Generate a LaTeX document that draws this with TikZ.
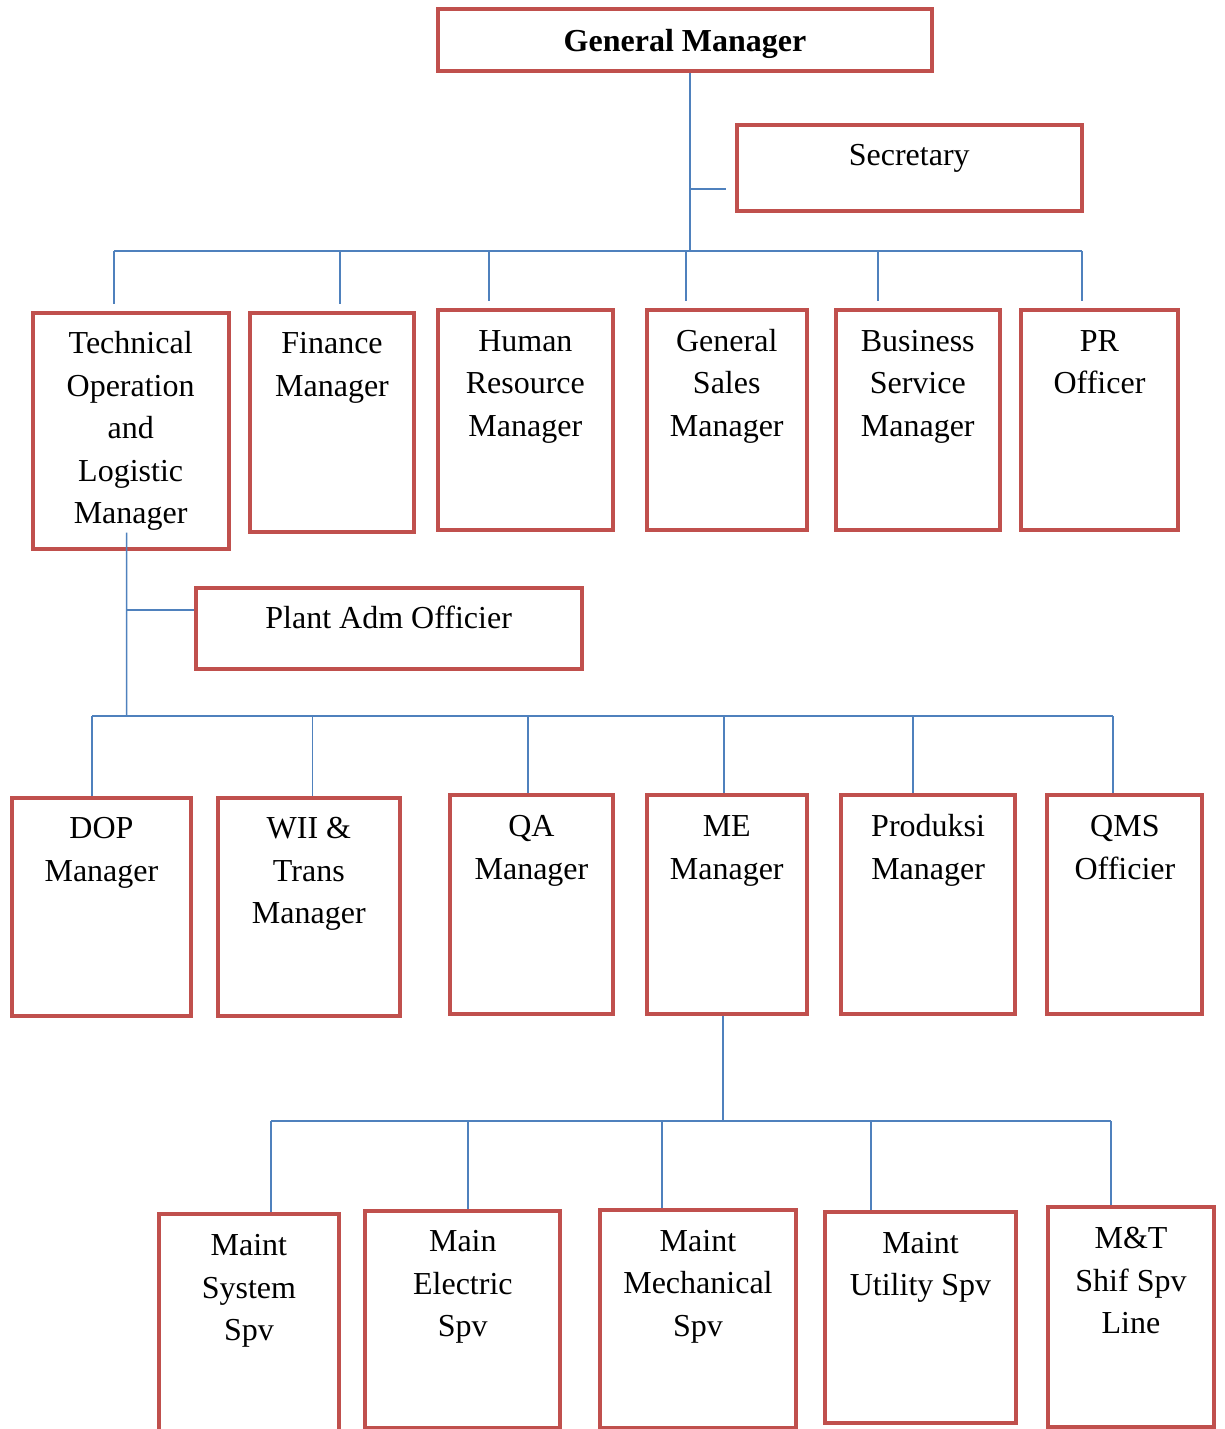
\documentclass[tikz,border=0pt]{standalone}
\usepackage{fontspec}
\setmainfont{Liberation Serif}
\usepackage{tikz}
\usetikzlibrary{positioning}
\definecolor{boxred}{RGB}{192, 80, 77}
\definecolor{linkblue}{RGB}{79, 129, 189}

\begin{document}
\begin{tikzpicture}[
    x=1pt, y=-1pt,
    unit/.style={draw=boxred, line width=4pt, fill=white, inner sep=0pt},
    boxtitle/.style={anchor=north, inner sep=0pt, align=center, yshift=-13.25pt, font=\fontsize{32}{42.5}\selectfont},
    link/.style={draw=linkblue, line width=1.6pt}
]
    \useasboundingbox (0,0) rectangle (1224,1429);
    \clip (0,0) rectangle (1224,1429);

    % Top level
    \node[unit, minimum width=494.8pt, minimum height=62.6pt, label={[boxtitle, yshift=-2pt]north:{\strut\textbf{General Manager}}}] (gm) at (685, 40) {};
    \node[unit, minimum width=344.5pt, minimum height=86pt, label={[boxtitle]north:{\strut Secretary}}] (sec) at (909.25, 167.7) {};

    % Managers
    \node[unit, minimum width=195.7pt, minimum height=236pt, label={[boxtitle]north:{\strut Technical\\Operation\\and\\Logistic\\Manager}}] (tech) at (130.65, 430.7) {};
    \node[unit, minimum width=164pt, minimum height=219.3pt, label={[boxtitle]north:{\strut Finance\\Manager}}] (fin) at (332, 422.35) {};
    \node[unit, minimum width=175.3pt, minimum height=220pt, label={[boxtitle]north:{\strut Human\\Resource\\Manager}}] (hr) at (525.35, 420) {};
    \node[unit, minimum width=160.5pt, minimum height=220pt, label={[boxtitle]north:{\strut General\\Sales\\Manager}}] (gs) at (726.75, 420) {};
    \node[unit, minimum width=163.5pt, minimum height=220pt, label={[boxtitle]north:{\strut Business\\Service\\Manager}}] (bs) at (917.75, 420) {};
    \node[unit, minimum width=157pt, minimum height=220pt, label={[boxtitle]north:{\strut PR\\Officer}}] (pr) at (1099.5, 420) {};

    % Plant level
    \node[unit, minimum width=385.9pt, minimum height=81.3pt, label={[boxtitle]north:{\strut Plant Adm Officier}}] (plant) at (388.65, 628.35) {};

    \node[unit, minimum width=179.9pt, minimum height=218.6pt, label={[boxtitle]north:{\strut DOP\\Manager}}] (dop) at (101.45, 907) {};
    \node[unit, minimum width=181.7pt, minimum height=218.6pt, label={[boxtitle]north:{\strut WII \&\\Trans\\Manager}}] (wii) at (308.85, 907) {};
    \node[unit, minimum width=163.7pt, minimum height=218.7pt, label={[boxtitle]north:{\strut QA\\Manager}}] (qa) at (531.45, 904.65) {};
    \node[unit, minimum width=160.5pt, minimum height=218.4pt, label={[boxtitle]north:{\strut ME\\Manager}}] (me) at (726.75, 904.5) {};
    \node[unit, minimum width=174.2pt, minimum height=218.4pt, label={[boxtitle]north:{\strut Produksi\\Manager}}] (prod) at (928.1, 904.5) {};
    \node[unit, minimum width=155pt, minimum height=218.4pt, label={[boxtitle]north:{\strut QMS\\Officier}}] (qms) at (1124.9, 904.5) {};

    % Supervisors
    \node[unit, minimum width=179.2pt, minimum height=228.7pt, label={[boxtitle]north:{\strut Maint\\System\\Spv}}] (msys) at (248.9, 1328.65) {};
    \node[unit, minimum width=195.1pt, minimum height=217.3pt, label={[boxtitle]north:{\strut Main\\Electric\\Spv}}] (melec) at (462.85, 1319.35) {};
    \node[unit, minimum width=195.1pt, minimum height=217.5pt, label={[boxtitle]north:{\strut Maint\\Mechanical\\Spv}}] (mmech) at (697.95, 1318.75) {};
    \node[unit, minimum width=191pt, minimum height=211pt, label={[boxtitle]north:{\strut Maint\\Utility Spv}}] (mutil) at (920.5, 1317.5) {};
    \node[unit, minimum width=166.8pt, minimum height=219.2pt, label={[boxtitle]north:{\strut M\&T\\Shif Spv\\Line}}] (mt) at (1131, 1316.9) {};

    % Connectors from GM
    \coordinate (hubA) at (690, 251);
    \coordinate (sa) at ([xshift=-9pt, yshift=-21.3pt]sec.west);
    \draw[link] ([xshift=5pt]gm.south) -- (hubA);
    \draw[link] (sa -| hubA) -- (sa);
    \draw[link] (114, 251) -- (1082, 251);
    \foreach \x/\b in {114/tech, 340/fin, 489/hr, 686/gs, 878/bs, 1082/pr} {
        \coordinate (drop) at (\x, 251);
        \draw[link, shorten >=7pt] (drop) -- (drop |- \b.north);
    }

    % Connectors from technical manager
    \coordinate (hubB) at (126.6, 716);
    \coordinate (pa) at ([yshift=18.3pt]plant.west);
    \draw[link] ([xshift=-4pt, yshift=18pt]tech.south) -- (hubB);
    \draw[link] (pa -| hubB) -- (pa);
    \draw[link] (92, 716) -- (1113, 716);
    \foreach \x/\b in {92/dop, 312.4/wii, 528/qa, 724/me, 913/prod, 1113/qms} {
        \coordinate (drop) at (\x, 716);
        \draw[link] (drop) -- (drop |- \b.north);
    }

    % Connectors from ME manager
    \coordinate (hubC) at (723, 1121);
    \draw[link] ([xshift=-3.75pt]me.south) -- (hubC);
    \draw[link] (271, 1121) -- (1111, 1121);
    \foreach \x/\b in {271/msys, 468/melec, 662/mmech, 871/mutil, 1111/mt} {
        \coordinate (drop) at (\x, 1121);
        \draw[link] (drop) -- (drop |- \b.north);
    }
\end{tikzpicture}
\end{document}
